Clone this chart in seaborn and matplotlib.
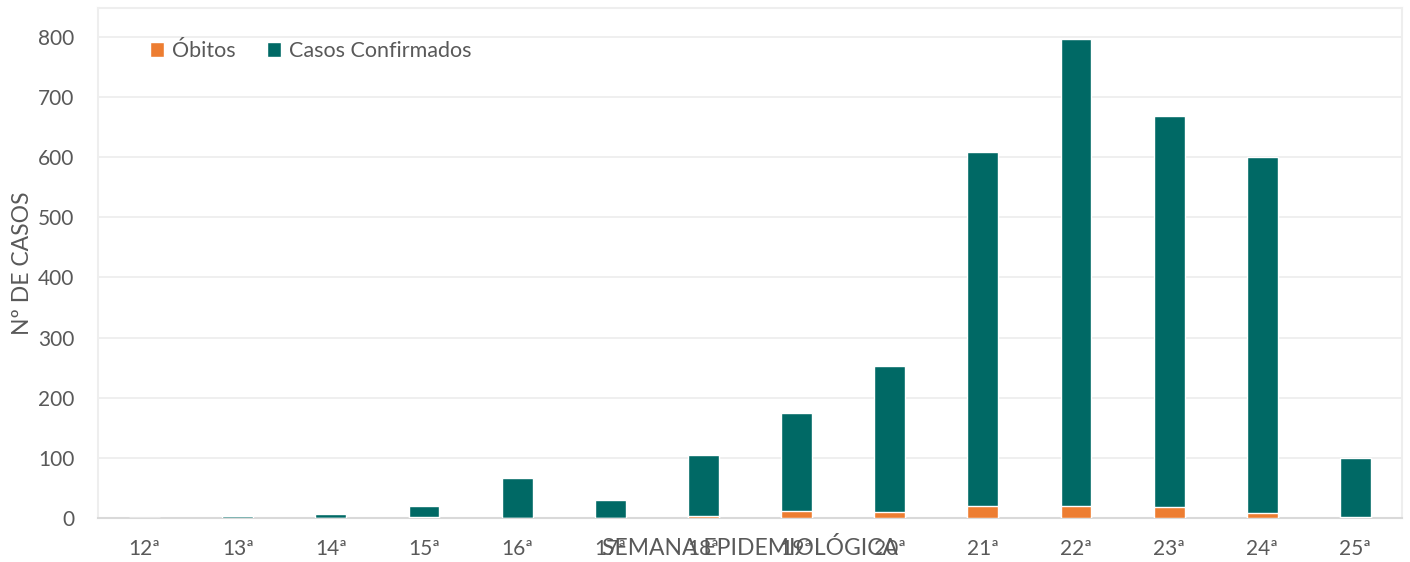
import matplotlib
matplotlib.use("Agg")
import matplotlib.pyplot as plt
import seaborn as sns
import pandas as pd
from matplotlib.patches import Patch

semanas = ["12ª", "13ª", "14ª", "15ª", "16ª", "17ª", "18ª", "19ª", "20ª",
           "21ª", "22ª", "23ª", "24ª", "25ª"]
obitos = [0, 0, 0, 2, 0, 0, 3, 11, 10, 20, 20, 19, 8, 2]
casos_confirmados = [0, 3, 7, 18, 67, 30, 102, 164, 243, 589, 777, 650, 593, 98]

total = [o + c for o, c in zip(obitos, casos_confirmados)]
df = pd.DataFrame({"semana": semanas, "obitos": obitos, "total": total})

sns.set_theme(style="white")
plt.rcParams["font.family"] = ["Lato", "DejaVu Sans"]
text_color = "#595959"
orange = "#ED7D31"
teal = "#006965"

fig = plt.figure(figsize=(14.1, 5.62), dpi=100)
ax = fig.add_axes([98 / 1410, 1 - 518 / 562, 1304 / 1410, 510 / 562])

sns.barplot(data=df, x="semana", y="total", color=teal, width=0.33,
            saturation=1, ax=ax, zorder=3)
sns.barplot(data=df, x="semana", y="obitos", color=orange, width=0.33,
            saturation=1, ax=ax, zorder=4)

ax.set_ylim(0, 848)
ax.set_xlim(-0.5, len(semanas) - 0.5)
ax.set_yticks(range(0, 801, 100))
ax.yaxis.grid(True, color="#ececec", linewidth=1.2, zorder=0)
ax.set_axisbelow(True)

for side in ["top", "left", "right"]:
    ax.spines[side].set_color("#eeeeee")
    ax.spines[side].set_linewidth(1.5)
ax.spines["bottom"].set_color("#d9d9d9")
ax.spines["bottom"].set_linewidth(1.5)

ax.tick_params(axis="x", length=0, pad=15, labelsize=15, labelcolor=text_color)
ax.tick_params(axis="y", length=0, pad=17, labelsize=15, labelcolor=text_color)

ax.set_xlabel("SEMANA EPIDEMIOLÓGICA", fontsize=16.5, color=text_color, va="center")
ax.xaxis.set_label_coords(0.5, -0.059)
ax.set_ylabel("Nº DE CASOS", fontsize=16.5, color=text_color, va="center")
ax.yaxis.set_label_coords(-0.058, 0.5)

handles = [Patch(facecolor=orange, label="Óbitos"),
           Patch(facecolor=teal, label="Casos Confirmados")]
leg = ax.legend(handles=handles, loc="upper left", bbox_to_anchor=(0.025, 0.973),
                ncol=2, frameon=False, fontsize=15.5, handlelength=0.65,
                handleheight=0.65, handletextpad=0.35, columnspacing=1.5)
for t in leg.get_texts():
    t.set_color(text_color)

fig.savefig("out.png", dpi=100, facecolor="white")
